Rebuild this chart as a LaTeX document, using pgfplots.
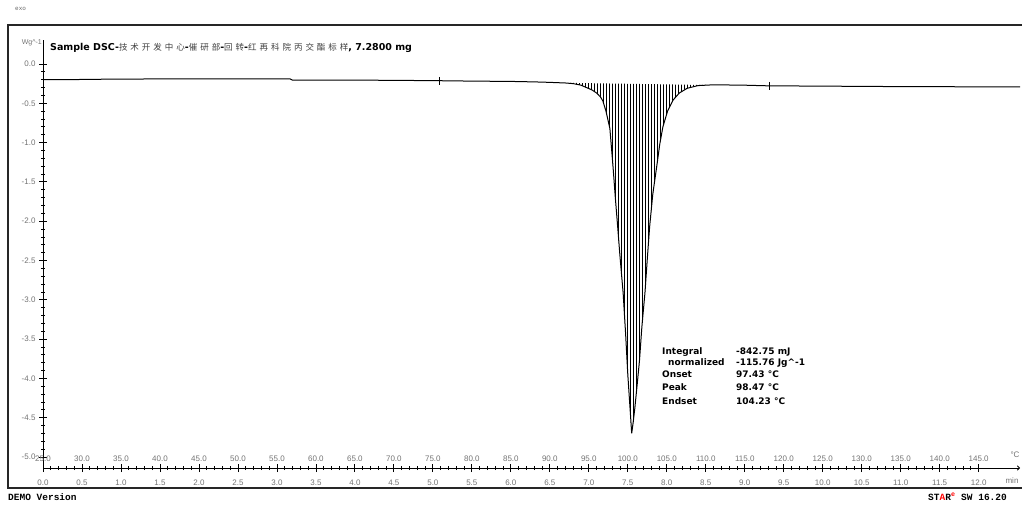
\documentclass[border=0pt]{standalone}
\usepackage{fontspec}
\setmainfont{Liberation Sans}
\newfontfamily\dv{DejaVu Sans}
\newfontfamily\cjk[LetterSpace=35]{Noto Sans CJK SC}
\newfontfamily\mono{Liberation Mono}
\usepackage{pgfplots}
\pgfplotsset{compat=1.18}
\usepgfplotslibrary{fillbetween}
\usetikzlibrary{patterns.meta,arrows.meta}
\newcommand\lab[2]{\begin{tabular}{@{}c@{}}#1\\[15pt]#2\end{tabular}}
\newcommand\cj[1]{{\cjk\mdseries\fontsize{8.5}{9}\selectfont\color{black!75}#1}}
\begin{document}
\begin{tikzpicture}[x=1pt,y=1pt]
% outer frame
\draw[line width=1.3pt, black!85] (8,18) rectangle (1040,481);
\begin{axis}[
  at={(43pt,38pt)}, anchor=south west, scale only axis,
  width=977pt, height=428pt,
  xmin=25, xmax=150.3, ymin=-5.14, ymax=0.305,
  axis lines=left,
  y axis line style={-, line width=0.9pt},
  x axis line style={-{To[length=3pt,width=5pt]}, line width=0.9pt},
  clip=false,
  tick align=center,
  major tick length=8pt, minor tick length=4pt,
  tick style={black, line width=0.8pt},
  minor x tick num=4, minor y tick num=4,
  xtick={25,30,35,40,45,50,55,60,65,70,75,80,85,90,95,100,105,110,115,120,125,130,135,140,145},
  xticklabels={\lab{25.0}{0.0},\lab{30.0}{0.5},\lab{35.0}{1.0},\lab{40.0}{1.5},\lab{45.0}{2.0},\lab{50.0}{2.5},\lab{55.0}{3.0},\lab{60.0}{3.5},\lab{65.0}{4.0},\lab{70.0}{4.5},\lab{75.0}{5.0},\lab{80.0}{5.5},\lab{85.0}{6.0},\lab{90.0}{6.5},\lab{95.0}{7.0},\lab{100.0}{7.5},\lab{105.0}{8.0},\lab{110.0}{8.5},\lab{115.0}{9.0},\lab{120.0}{9.5},\lab{125.0}{10.0},\lab{130.0}{10.5},\lab{135.0}{11.0},\lab{140.0}{11.5},\lab{145.0}{12.0}},
  xticklabel style={anchor=center, inner sep=0pt, font=\fontsize{8}{9}\selectfont, text=black!55},
  ytick={-5,-4.5,-4,-3.5,-3,-2.5,-2,-1.5,-1,-0.5,0},
  yticklabels={-5.0,-4.5,-4.0,-3.5,-3.0,-2.5,-2.0,-1.5,-1.0,-0.5,0.0},
  yticklabel style={font=\fontsize{8}{9}\selectfont, text=black!55},
]
\addplot[name path=curve, black, line width=1pt] coordinates {
(25.0,-0.200) (28,-0.200) (31.4,-0.195) (40,-0.190) (50,-0.190) (56.7,-0.190)
(57,-0.205) (65,-0.205) (75,-0.212) (80,-0.218) (85,-0.222) (88,-0.228)
(90,-0.234) (92,-0.242) (93,-0.250) (94,-0.270) (94.7,-0.300) (95.4,-0.330)
(96.0,-0.370) (96.5,-0.420) (96.8,-0.470) (97.2,-0.600) (97.7,-0.820)
(98.1,-1.300) (98.4,-1.700) (98.7,-2.070) (99.0,-2.450) (99.4,-2.910)
(99.7,-3.400) (100.0,-3.950) (100.3,-4.400) (100.5,-4.700) (100.7,-4.550)
(100.9,-4.380) (101.2,-4.080) (101.5,-3.770) (101.8,-3.350) (102.2,-2.910)
(102.5,-2.480) (102.8,-2.070) (103.2,-1.660) (103.7,-1.310) (104.1,-1.020)
(104.5,-0.800) (105.1,-0.600) (105.8,-0.460) (106.6,-0.370) (107.6,-0.310)
(109.0,-0.275) (111,-0.265) (115,-0.270) (118,-0.278) (125,-0.282)
(135,-0.288) (150.3,-0.292)
};
\addplot[name path=base, draw=none] coordinates {(75.9,-0.215) (118.1,-0.280)};
\addplot[pattern={Lines[angle=90,distance=3pt,line width=0.8pt]}, draw=none]
  fill between[of=curve and base, soft clip={domain=92.5:110}];
\addplot[only marks, mark=|, mark size=4pt, line width=0.8pt] coordinates {(75.9,-0.215) (118.1,-0.280)};
\end{axis}
% texts
\node[anchor=east, inner sep=0pt, font=\fontsize{7}{8}\selectfont, text=black!55] at (42,463) {Wg\textasciicircum-1};
\node[anchor=base west, inner sep=0pt, font=\dv\bfseries\fontsize{9.5}{10}\selectfont] at (50,455)
 {Sample DSC-\cj{技术开发中心}-\cj{催研部}-\cj{回转}-\cj{红再科院丙交酯标样}, 7.2800 mg};
\node[inner sep=0pt, font=\fontsize{8}{9}\selectfont, text=black!55] at (1015,51) {°C};
\node[inner sep=0pt, font=\fontsize{8}{9}\selectfont, text=black!55] at (1012,25) {min};
\begin{scope}[every node/.style={anchor=base west, inner sep=0pt, font=\dv\bfseries\fontsize{9}{10}\selectfont}]
\node at (662,151) {Integral};
\node at (668,140) {normalized};
\node at (662,128) {Onset};
\node at (662,115) {Peak};
\node at (662,102) {Endset};
\node at (736,151) {-842.75 mJ};
\node at (736,140) {-115.76 Jg\textasciicircum-1};
\node at (736,128) {97.43 °C};
\node at (736,115) {98.47 °C};
\node at (736,102) {104.23 °C};
\end{scope}
\node[anchor=base west, inner sep=0pt, font=\mono\bfseries\fontsize{9.5}{10}\selectfont] at (8,6) {DEMO Version};
\node[anchor=base west, inner sep=0pt, font=\mono\bfseries\fontsize{9.5}{10}\selectfont] at (928,6) {ST{\color{red}A}R\textsuperscript{\color{red}e} SW 16.20};
\node[anchor=base west, inner sep=0pt, font=\mono\fontsize{6}{7}\selectfont, text=black!60] at (15,495) {exo};
\pgfresetboundingbox
\useasboundingbox (0,0) rectangle (1022,506);
\end{tikzpicture}
\end{document}
